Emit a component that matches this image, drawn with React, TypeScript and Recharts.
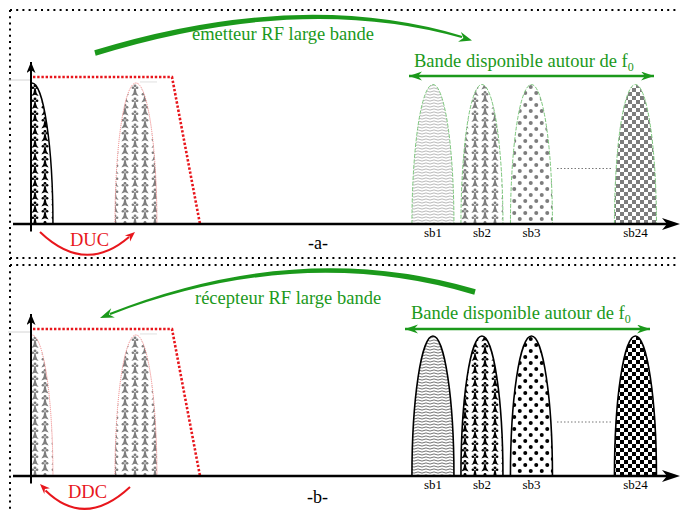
import React from "react";
import { ComposedChart, Bar, Line, XAxis, YAxis, ReferenceLine } from "recharts";

// frequency (arbitrary units) and relative level of every lobe
const lobeFreq = [0.1, 10.5, 40.2, 45.1, 50.05, 60.45];
const lobeLevelA = [9.4, 9.4, 9.3, 9.3, 9.3, 9.3];
const lobeLevelB = [9.4, 9.4, 9.33, 9.33, 9.33, 9.33];

const sbTicks = [40.2, 45.1, 50.05, 60.45];
const sbNames = ["sb1", "sb2", "sb3", "sb24"];

// DUC / DDC filter mask
const filterFreq = [0.2, 14.1, 16.9];
const filterLevel = [9.8, 9.8, 0];

// "....." between sb3 and sb24
const gapFreq = [52.6, 58.2];
const gapLevelA = [3.7, 3.7];
const gapLevelB = [3.6, 3.6];

const GREEN = "#1b991b";
const RED = "#e8161c";
const SERIF = "'Liberation Serif', 'Times New Roman', serif";
const LOBE_W = 42;

type LobeStyle = { fill: string; stroke: string; sw: number; dash?: string };

const redDot = { stroke: "#f07a7a", sw: 1, dash: "1 1" };
const greenDash = { stroke: "#7cc77c", sw: 1, dash: "4 1.5" };
const blackLine = { stroke: "#000", sw: 1.6 };

const stylesA: LobeStyle[] = [
  { fill: "erm-k", stroke: "#000", sw: 1.5 },
  { fill: "erm-g", ...redDot },
  { fill: "wav-g", ...greenDash },
  { fill: "erm-g", ...greenDash },
  { fill: "dot-g", ...greenDash },
  { fill: "chk-g", ...greenDash },
];
const stylesB: LobeStyle[] = [
  { fill: "erm-g", ...redDot },
  { fill: "erm-g", ...redDot },
  { fill: "wav-k", ...blackLine },
  { fill: "erm-k", ...blackLine },
  { fill: "dot-k", ...blackLine },
  { fill: "chk-k", ...blackLine },
];

const txt = (size: number, color: string) => ({ fontFamily: SERIF, fontSize: size, fill: color });

// one ermine spot: three small dots over a flared tail
function Ermine({ cx, cy, color }: { cx: number; cy: number; color: string }) {
  return (
    <g fill={color}>
      <circle cx={cx} cy={cy + 1.3} r={1.4} />
      <circle cx={cx - 2.1} cy={cy + 3.2} r={1.3} />
      <circle cx={cx + 2.1} cy={cy + 3.2} r={1.3} />
      <path
        d={`M${cx - 0.6},${cy + 3.5} L${cx + 0.6},${cy + 3.5} Q${cx + 0.9},${cy + 8.5} ${cx + 3.6},${cy + 11.5} L${cx},${cy + 10.3} L${cx - 3.6},${cy + 11.5} Q${cx - 0.9},${cy + 8.5} ${cx - 0.6},${cy + 3.5}Z`}
      />
    </g>
  );
}

function Patterns({ tag }: { tag: string }) {
  const mk = (name: string, color: string) => (
    <>
      <pattern id={`erm-${name}-${tag}`} patternUnits="userSpaceOnUse" width={20} height={26}>
        <rect width={20} height={26} fill="#fff" />
        <Ermine cx={5} cy={0} color={color} />
        <Ermine cx={15} cy={6.5} color={color} />
        <Ermine cx={5} cy={13} color={color} />
        <Ermine cx={15} cy={19.5} color={color} />
        <Ermine cx={15} cy={-6.5} color={color} />
      </pattern>
      <pattern id={`wav-${name}-${tag}`} patternUnits="userSpaceOnUse" width={8} height={3}>
        <rect width={8} height={3} fill="#fff" />
        <path d="M0,1.5 Q2,0.3 4,1.5 T8,1.5" fill="none" stroke={name === "k" ? "#333" : "#9a9a9a"} strokeWidth={0.7} />
      </pattern>
      <pattern id={`dot-${name}-${tag}`} patternUnits="userSpaceOnUse" width={11} height={12}>
        <rect width={11} height={12} fill="#fff" />
        <circle cx={2.75} cy={3} r={2} fill={color} />
        <circle cx={8.25} cy={9} r={2} fill={color} />
      </pattern>
      <pattern id={`chk-${name}-${tag}`} patternUnits="userSpaceOnUse" width={8} height={8}>
        <rect width={8} height={8} fill="#fff" />
        <rect width={4} height={4} fill={color} />
        <rect x={4} y={4} width={4} height={4} fill={color} />
      </pattern>
    </>
  );
  return (
    <defs>
      {mk("k", "#000")}
      {mk("g", "#7d7d7d")}
      <clipPath id={`clipY-${tag}`}>
        <rect x={31} y={0} width={660} height={300} />
      </clipPath>
      <marker id={`ax-${tag}`} markerUnits="userSpaceOnUse" markerWidth={20} markerHeight={14} refX={10} refY={6} orient="auto">
        <path d="M0,0 L18,6 L0,12 L5,6 Z" fill="#000" />
      </marker>
      <marker id={`ay-${tag}`} markerUnits="userSpaceOnUse" markerWidth={12} markerHeight={10} refX={11} refY={4.5} orient="auto">
        <path d="M0,0 L11,4.5 L0,9 L3,4.5 Z" fill="#000" />
      </marker>
      <marker id={`ag-${tag}`} markerUnits="userSpaceOnUse" markerWidth={14} markerHeight={10} refX={13} refY={4.5} orient="auto-start-reverse">
        <path d="M0,0 L13,4.5 L0,9 L4,4.5 Z" fill={GREEN} />
      </marker>
    </defs>
  );
}

function makeLobe(styles: LobeStyle[], tag: string, data: any[]) {
  return (p: any) => {
    const i = typeof p.index === "number" ? p.index : data.indexOf(p.payload);
    const st = styles[i] || styles[0];
    const cx = p.x + p.width / 2;
    const bottom = p.y + p.height;
    const x0 = cx - LOBE_W / 2;
    const d = `M${x0},${bottom} A${LOBE_W / 2},${p.height} 0 0 1 ${x0 + LOBE_W},${bottom} Z`;
    return (
      <path
        d={d}
        fill={`url(#${st.fill}-${tag})`}
        stroke={st.stroke}
        strokeWidth={st.sw}
        strokeDasharray={st.dash}
        clipPath={`url(#clipY-${tag})`}
      />
    );
  };
}

function AnnotA() {
  return (
    <g>
      <path d="M10,10 H678 M10,10 V260" stroke="#000" strokeWidth={2} strokeDasharray="2 4.2" fill="none" />
      <path d="M94.3,50.3 Q300,-12.5 462.3,36 L461.7,38 Q300,-7.5 95.7,55.7 Z" fill={GREEN} />
      <path d="M472,40.5 L460.9,32.1 L463.4,38 L458.1,41.7 Z" fill={GREEN} />
      <text x={192} y={40} style={txt(18.5, GREEN)}>émetteur RF large bande</text>
      <text x={414} y={67} style={txt(18.5, GREEN)}>
        Bande disponible autour de f<tspan style={{ fontSize: 12 }} dy={4}>0</tspan>
      </text>
      <line x1={409} y1={76} x2={654} y2={76} stroke={GREEN} strokeWidth={2.5} markerStart="url(#ag-a)" markerEnd="url(#ag-a)" />
      <path d="M40,232 Q85,275 129,237" fill="none" stroke={RED} strokeWidth={2} />
      <path d="M135,232 L130.1,241.5 L129.7,236.6 L124.9,235.5 Z" fill={RED} />
      <text x={70} y={246} style={txt(18.5, RED)}>DUC</text>
      <text x={308} y={249} style={txt(18, "#000")}>-a-</text>
    </g>
  );
}

function AnnotB() {
  return (
    <g>
      <path d="M10,6 H678 M10,13 H678 M10,13 V258" stroke="#000" strokeWidth={2} strokeDasharray="2 4.2" fill="none" />
      <path d="M475.7,37.3 Q300,-14.5 109.6,61.1 L110.4,62.9 Q300,-9.5 474.3,42.7 Z" fill={GREEN} />
      <path d="M100,66 L111.2,56.2 L108.9,62.6 L114.8,65.6 Z" fill={GREEN} />
      <text x={195} y={52} style={txt(18.5, GREEN)}>récepteur RF large bande</text>
      <text x={411} y={67} style={txt(18.5, GREEN)}>
        Bande disponible autour de f<tspan style={{ fontSize: 12 }} dy={4}>0</tspan>
      </text>
      <line x1={405} y1={77} x2={650} y2={77} stroke={GREEN} strokeWidth={2.5} markerStart="url(#ag-b)" markerEnd="url(#ag-b)" />
      <path d="M130,235 Q85,277 45.5,238.5" fill="none" stroke={RED} strokeWidth={2} />
      <path d="M40,232 L49.9,236.3 L44.9,236.9 L44.3,241.9 Z" fill={RED} />
      <text x={68} y={246} style={txt(18.5, RED)}>DDC</text>
      <text x={307} y={251} style={txt(18, "#000")}>-b-</text>
    </g>
  );
}

type PanelProps = {
  tag: string;
  top: number;
  height: number;
  levels: number[];
  gapLevel: number[];
  styles: LobeStyle[];
  children: React.ReactNode;
};

function Panel({ tag, top, height, levels, gapLevel, styles, children }: PanelProps) {
  const data = lobeFreq.map((f, i) => ({ f, level: levels[i] }));
  const filter = filterFreq.map((f, i) => ({ f, level: filterLevel[i] }));
  const gap = gapFreq.map((f, i) => ({ f, level: gapLevel[i] }));
  // vertical axis with its arrow head
  const yAxisShape = (p: any) => (
    <line x1={p.x1} y1={p.y1} x2={p.x2} y2={p.y2} stroke="#000" strokeWidth={2} markerEnd={`url(#ay-${tag})`} />
  );
  return (
    <div style={{ position: "absolute", left: 0, top }}>
      <ComposedChart width={680} height={height} data={data} margin={{ top: 59, right: 8, bottom: height - 254, left: 13 }}>
        <Patterns tag={tag} />
        <XAxis
          dataKey="f"
          type="number"
          domain={[-1.8, 64.1]}
          allowDataOverflow
          ticks={sbTicks}
          interval={0}
          tickFormatter={(v: number) => sbNames[sbTicks.indexOf(v)]}
          tickLine={false}
          tickSize={0}
          tickMargin={4}
          height={30}
          tick={{ fill: "#000", fontSize: 13, fontFamily: SERIF }}
          axisLine={{ stroke: "#000", strokeWidth: 2.5, markerEnd: `url(#ax-${tag})` }}
        />
        <YAxis type="number" domain={[0, 11]} allowDataOverflow hide />
        <ReferenceLine segment={[{ x: -2.3, y: 9.6 }, { x: 0, y: 9.6 }]} stroke="#d4d4d4" strokeWidth={1} ifOverflow="visible" />
        <ReferenceLine segment={[{ x: 10.9, y: 9.47 }, { x: 12.6, y: 9.47 }]} stroke="#e0e0e0" strokeWidth={1} ifOverflow="visible" />
        <Bar dataKey="level" barSize={LOBE_W} isAnimationActive={false} shape={makeLobe(styles, tag, data)} />
        <Line data={filter} dataKey="level" stroke={RED} strokeWidth={2.6} strokeDasharray="2.4 1.8" dot={false} activeDot={false} isAnimationActive={false} />
        <Line data={gap} dataKey="level" stroke="#777" strokeWidth={1} strokeDasharray="1.5 2" dot={false} activeDot={false} isAnimationActive={false} />
        <ReferenceLine segment={[{ x: 0, y: -0.5 }, { x: 0, y: 10.8 }]} ifOverflow="visible" shape={yAxisShape} />
        {children}
      </ComposedChart>
    </div>
  );
}

export default function App() {
  return (
    <div style={{ position: "absolute", left: 0, top: 0, width: 680, height: 510, background: "#fff", overflow: "hidden" }}>
      <Panel tag="a" top={0} height={260} levels={lobeLevelA} gapLevel={gapLevelA} styles={stylesA}>
        <AnnotA />
      </Panel>
      <Panel tag="b" top={252} height={258} levels={lobeLevelB} gapLevel={gapLevelB} styles={stylesB}>
        <AnnotB />
      </Panel>
    </div>
  );
}
